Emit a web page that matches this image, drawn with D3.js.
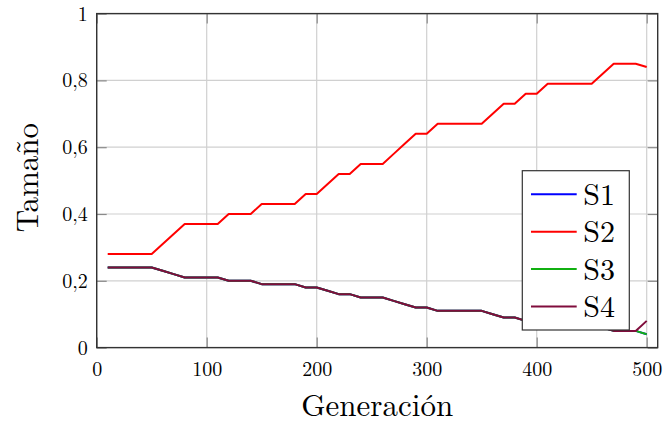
<!DOCTYPE html>
<html>
<head>
<meta charset="utf-8">
<script src="https://cdn.jsdelivr.net/npm/d3@7"></script>
<style>
    body { margin: 0; background: #fff; }
    svg text { font-family: "Latin Modern Roman", "CMU Serif", "Liberation Serif", "Times New Roman", Tinos, "DejaVu Serif", "Noto Serif", serif !important; fill: #000; }
</style>
</head>
<body>
<div id="chart"></div>
<script>

/*********DATA*********/
const generations = [10, 20, 30, 40, 50, 60, 70, 80, 90, 100,
    110, 120, 130, 140, 150, 160, 170, 180, 190, 200,
    210, 220, 230, 240, 250, 260, 270, 280, 290, 300,
    310, 320, 330, 340, 350, 360, 370, 380, 390, 400,
    410, 420, 430, 440, 450, 460, 470, 480, 490, 500];

const s2 = [0.28, 0.28, 0.28, 0.28, 0.28, 0.31, 0.34, 0.37, 0.37, 0.37,
    0.37, 0.40, 0.40, 0.40, 0.43, 0.43, 0.43, 0.43, 0.46, 0.46,
    0.49, 0.52, 0.52, 0.55, 0.55, 0.55, 0.58, 0.61, 0.64, 0.64,
    0.67, 0.67, 0.67, 0.67, 0.67, 0.70, 0.73, 0.73, 0.76, 0.76,
    0.79, 0.79, 0.79, 0.79, 0.79, 0.82, 0.85, 0.85, 0.85, 0.84];

const s4 = [0.24, 0.24, 0.24, 0.24, 0.24, 0.23, 0.22, 0.21, 0.21, 0.21,
    0.21, 0.20, 0.20, 0.20, 0.19, 0.19, 0.19, 0.19, 0.18, 0.18,
    0.17, 0.16, 0.16, 0.15, 0.15, 0.15, 0.14, 0.13, 0.12, 0.12,
    0.11, 0.11, 0.11, 0.11, 0.11, 0.10, 0.09, 0.09, 0.08, 0.08,
    0.07, 0.07, 0.07, 0.07, 0.07, 0.06, 0.05, 0.05, 0.05, 0.08];

const s3 = [0.24, 0.24, 0.24, 0.24, 0.24, 0.23, 0.22, 0.21, 0.21, 0.21,
    0.21, 0.20, 0.20, 0.20, 0.19, 0.19, 0.19, 0.19, 0.18, 0.18,
    0.17, 0.16, 0.16, 0.15, 0.15, 0.15, 0.14, 0.13, 0.12, 0.12,
    0.11, 0.11, 0.11, 0.11, 0.11, 0.10, 0.09, 0.09, 0.08, 0.08,
    0.07, 0.07, 0.07, 0.07, 0.07, 0.06, 0.05, 0.05, 0.05, 0.04];

// S1 sits under S3 the whole way
const s1 = s3.slice();

const seriesNames = ["S1", "S2", "S3", "S4"];
const seriesColors = ["#0000ff", "#ff0000", "#11b011", "#800d3c"];
const xTicks = [0, 100, 200, 300, 400, 500];
const yTicks = [0, 0.2, 0.4, 0.6, 0.8, 1];


/*********CHART*********/
const width = 665;
const height = 423;
const margin = {top: 13.6, right: 7.3, bottom: 75.4, left: 96.7};
const w = width - margin.left - margin.right;
const h = height - margin.top - margin.bottom;
const serif = "'Latin Modern Roman', 'CMU Serif', 'Liberation Serif', 'Times New Roman', Tinos, 'DejaVu Serif', serif";

let svg = d3.select("#chart")
    .append("svg")
    .attr("width", width)
    .attr("height", height)
    .append("g")
    .attr("transform", "translate(" + margin.left + "," + margin.top + ")");

let x = d3.scaleLinear().domain([0, 510]).range([0, w]);
let y = d3.scaleLinear().domain([0, 1]).range([h, 0]);

// grid
svg.append("g")
    .selectAll("line.gx")
    .data(xTicks)
    .enter().append("line")
    .attr("x1", d => x(d)).attr("x2", d => x(d))
    .attr("y1", 0).attr("y2", h)
    .attr("stroke", "#d0d0d0")
    .attr("stroke-width", 1.2);

svg.append("g")
    .selectAll("line.gy")
    .data(yTicks)
    .enter().append("line")
    .attr("x1", 0).attr("x2", w)
    .attr("y1", d => y(d)).attr("y2", d => y(d))
    .attr("stroke", "#d0d0d0")
    .attr("stroke-width", 1.2);

// inner ticks on all four sides
const tickLen = 10;
function addTicks(g) {
    g.attr("font-family", serif);
    g.selectAll("path.domain").remove();
    g.selectAll(".tick line").attr("stroke", "#8a8a8a").attr("stroke-width", 1.2);
}
svg.append("g")
    .attr("transform", "translate(0," + h + ")")
    .call(d3.axisBottom(x).tickValues(xTicks).tickSize(-tickLen).tickPadding(14)
        .tickFormat(d => d))
    .call(addTicks)
    .selectAll("text")
    .style("font-size", "20px");

svg.append("g")
    .call(d3.axisTop(x).tickValues(xTicks).tickSize(-tickLen).tickFormat(""))
    .call(addTicks);

svg.append("g")
    .call(d3.axisLeft(y).tickValues(yTicks).tickSize(-tickLen).tickPadding(9)
        .tickFormat(d => String(d).replace(".", ",")))
    .call(addTicks)
    .selectAll("text")
    .style("font-size", "20px");

svg.append("g")
    .attr("transform", "translate(" + w + ",0)")
    .call(d3.axisRight(y).tickValues(yTicks).tickSize(-tickLen).tickFormat(""))
    .call(addTicks);

// series
const allSeries = [s1, s2, s3, s4];
const line = d3.line()
    .x((d, i) => x(generations[i]))
    .y(d => y(d));

svg.selectAll("path.serie")
    .data(allSeries)
    .enter().append("path")
    .attr("class", "serie")
    .attr("fill", "none")
    .attr("stroke", (d, i) => seriesColors[i])
    .attr("stroke-width", 2)
    .attr("stroke-linejoin", "round")
    .attr("d", line);

// frame
svg.append("rect")
    .attr("width", w)
    .attr("height", h)
    .attr("fill", "none")
    .attr("stroke", "#333")
    .attr("stroke-width", 1.4);

// legend
let legend = svg.append("g")
    .attr("transform", "translate(" + (522.3 - margin.left) + "," + (170.7 - margin.top) + ")");

legend.append("rect")
    .attr("width", 107)
    .attr("height", 159.3)
    .attr("fill", "#fff")
    .attr("stroke", "#333")
    .attr("stroke-width", 1.2);

let entries = legend.selectAll("g.entry")
    .data(seriesNames)
    .enter().append("g")
    .attr("transform", (d, i) => "translate(0," + (23.6 + i * 37.4) + ")");

entries.append("line")
    .attr("x1", 8.7).attr("x2", 54.4)
    .attr("y1", 0).attr("y2", 0)
    .attr("stroke", (d, i) => seriesColors[i])
    .attr("stroke-width", 2);

entries.append("text")
    .attr("x", 61)
    .attr("y", 10.5)
    .style("font-size", "30px")
    .text(d => d);

// axis labels
svg.append("text")
    .attr("x", w / 2)
    .attr("y", h + 68)
    .attr("text-anchor", "middle")
    .style("font-size", "31px")
    .text("Generación");

svg.append("text")
    .attr("transform", "translate(" + (38 - margin.left) + "," + (h / 2 - 3) + ") rotate(-90)")
    .attr("text-anchor", "middle")
    .style("font-size", "31px")
    .text("Tamaño");

</script>
</body>
</html>
